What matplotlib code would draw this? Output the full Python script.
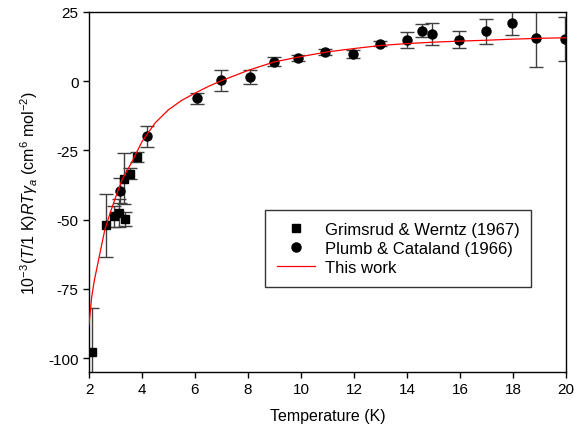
import numpy as np
import matplotlib
matplotlib.use("Agg")
import matplotlib.pyplot as plt

plt.rcParams['font.family'] = ['Liberation Sans', 'DejaVu Sans']
plt.rcParams['mathtext.fontset'] = 'custom'
plt.rcParams['mathtext.rm'] = 'Liberation Sans'
plt.rcParams['mathtext.it'] = 'Liberation Sans:italic'
plt.rcParams['axes.unicode_minus'] = False

# Grimsrud & Werntz (1967) - squares
gw_T = [2.10, 2.64, 2.96, 3.15, 3.36, 3.31, 3.56, 3.80]
gw_val = [-97.8, -52.0, -48.7, -47.5, -49.8, -35.2, -33.4, -27.2]
gw_err = [16.0, 11.3, 3.8, 5.0, 2.5, 9.3, 2.0, 1.8]

# Plumb & Cataland (1966) - circles
pc_T = [3.17, 4.18, 6.06, 6.98, 8.08, 8.97, 9.89, 10.89, 11.97, 12.98,
        13.99, 14.58, 14.96, 15.96, 16.97, 17.97, 18.87, 19.96]
pc_val = [-39.6, -19.8, -6.1, 0.3, 1.5, 7.0, 8.4, 10.6, 9.8, 13.6,
          14.9, 18.3, 17.1, 15.0, 18.0, 21.0, 15.6, 15.3]
pc_err = [4.5, 3.8, 2.0, 3.7, 2.4, 1.6, 1.0, 1.0, 1.5, 1.0,
          2.8, 2.2, 3.9, 3.0, 4.6, 4.2, 10.5, 8.0]

# This work - curve
fit_T = [2.0, 2.1, 2.2, 2.35, 2.6, 2.8, 3.0, 3.25, 3.6, 4.0, 4.5, 5.0,
         5.5, 6.0, 6.5, 7.0, 8.0, 9.0, 10.0, 11.0, 12.0, 13.0, 14.0,
         15.0, 16.0, 17.0, 18.0, 19.0, 20.0]
fit_val = [-88.0, -78.0, -72.0, -65.0, -53.5, -47.5, -42.0, -35.5, -29.5,
           -21.8, -15.0, -10.3, -6.9, -4.3, -1.9, 0.2, 3.9, 7.0, 8.9, 10.6,
           11.8, 12.9, 13.6, 14.1, 14.5, 14.8, 15.2, 15.5, 15.7]

fig = plt.figure(figsize=(5.74, 4.35), dpi=100)
ax = fig.add_axes([89/574, 1 - 373/435, 477/574, 360/435])

ax.errorbar(gw_T, gw_val, yerr=gw_err, fmt='none', ecolor='#404040',
            elinewidth=1.0, capsize=5, capthick=1.0, zorder=2)
ax.errorbar(pc_T, pc_val, yerr=pc_err, fmt='none', ecolor='#404040',
            elinewidth=1.0, capsize=5, capthick=1.0, zorder=2)
sq, = ax.plot(gw_T, gw_val, 's', color='black', markersize=5.5, zorder=3,
              label='Grimsrud & Werntz (1967)')
ci, = ax.plot(pc_T, pc_val, 'o', color='black', markersize=6.5, zorder=3,
              label='Plumb & Cataland (1966)')
ln, = ax.plot(fit_T, fit_val, '-', color='red', linewidth=0.9, zorder=4,
              label='This work')

ax.set_xlim(2, 20)
ax.set_ylim(-105, 25)
ax.set_xticks(np.arange(2, 21, 2))
ax.set_yticks([-100, -75, -50, -25, 0, 25])
ax.tick_params(direction='out', length=4, width=1, labelsize=11,
               top=False, right=False)
for sp in ax.spines.values():
    sp.set_linewidth(1.0)

ax.set_xlabel('Temperature (K)', fontsize=11.5, labelpad=8)
ax.set_ylabel(r'$10^{-3}(T/1\ \mathrm{K})RT\gamma_a$ (cm$^6$ mol$^{-2}$)',
              fontsize=11.5, labelpad=6)

leg = ax.legend(handles=[sq, ci, ln], loc='upper left',
                bbox_to_anchor=(0.369, 0.45), fontsize=12, frameon=True,
                fancybox=False, edgecolor='black', borderpad=0.7,
                labelspacing=0.25, handlelength=2.3, handletextpad=0.6,
                borderaxespad=0)
leg.get_frame().set_linewidth(1.0)

fig.savefig('out.png', dpi=100)
